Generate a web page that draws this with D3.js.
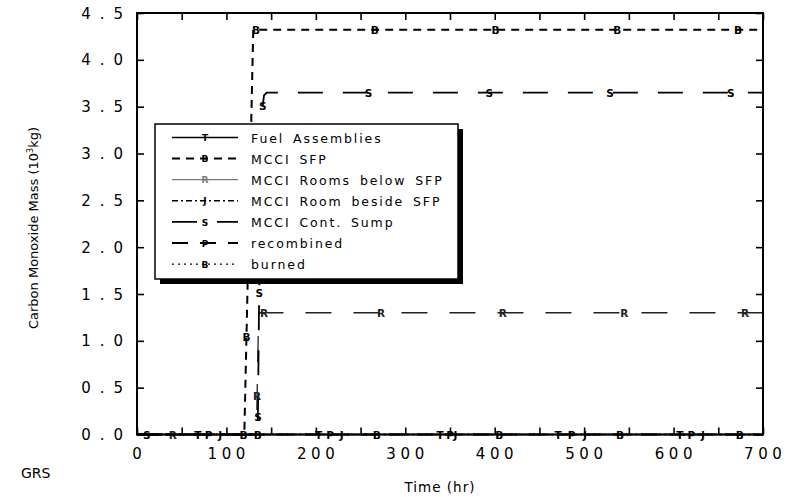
<!DOCTYPE html>
<html>
<head>
<meta charset="utf-8">
<script src="https://cdn.jsdelivr.net/npm/d3@7"></script>
<style>
  html, body { margin: 0; padding: 0; background: #fff; }
  svg { display: block; }
  text { font-family: "DejaVu Sans", sans-serif; fill: #000; }
</style>
</head>
<body>
<svg id="chart" width="796" height="497"></svg>
<script>
// ---- data: time (hr) vs carbon monoxide mass (10^3 kg) ----
const xTicks = [0, 100, 200, 300, 400, 500, 600, 700];
const yTicks = [0, 0.5, 1.0, 1.5, 2.0, 2.5, 3.0, 3.5, 4.0, 4.5];

const seriesNames = ["Fuel Assemblies", "MCCI SFP", "MCCI Rooms below SFP",
  "MCCI Room beside SFP", "MCCI Cont. Sump", "recombined", "burned"];
const seriesSymbols = ["T", "B", "R", "J", "S", "P", "B"];

// [hour, mass] points per series
const fuelAssemblies = [[0, 0], [700, 0]];
const mcciSFP        = [[0, 0], [120, 0], [130, 4.32], [700, 4.32]];
const mcciRoomsBelow = [[0, 0], [133.5, 0], [136, 1.3], [700, 1.3]];
const mcciRoomBeside = [[0, 0], [700, 0]];
const mcciContSump   = [[0, 0], [135, 0], [136.5, 1.41], [140.5, 3.5], [142, 3.62], [145, 3.65], [700, 3.65]];
const recombined     = [[0, 0], [700, 0]];
const burned         = [[0, 0], [700, 0]];

// hours at which each series carries its symbol
const fuelMarks    = [68, 203, 339, 471, 607];
const sfpMarks     = [119, 122.4, 133, 266, 401, 537, 672];
const belowMarks   = [40, 134.3, 142, 273, 409, 545, 680];
const besideMarks  = [93, 229, 356, 501, 633];
const sumpMarks    = [11, 135.2, 136.7, 140.6, 259, 394, 529, 664];
const recombMarks  = [80, 216, 350, 486, 620];
const burnedMarks  = [135, 268, 405, 540, 674];

const seriesData  = [fuelAssemblies, mcciSFP, mcciRoomsBelow, mcciRoomBeside, mcciContSump, recombined, burned];
const seriesMarks = [fuelMarks, sfpMarks, belowMarks, besideMarks, sumpMarks, recombMarks, burnedMarks];

// ---- styles ----
const styles = [
  { color: "#000", width: 1.6, dash: null },
  { color: "#000", width: 2.0, dash: "8,6" },
  { color: "#222", width: 1.3, dash: "26,22" },
  { color: "#000", width: 1.4, dash: "6,3,2,3" },
  { color: "#000", width: 1.8, dash: "25,20" },
  { color: "#000", width: 1.8, dash: "16,12" },
  { color: "#000", width: 1.4, dash: "2,4" }
];
const legendStyles = styles.map((s, i) => i === 2 ? { color: "#777", width: 1.2, dash: null } : s);

const svg = d3.select("#chart");
const x = d3.scaleLinear().domain([0, 700]).range([137, 763]);
const y = d3.scaleLinear().domain([0, 4.5]).range([434.5, 13]);

const line = d3.line().x(d => x(d[0])).y(d => y(d[1]));

// value of a series at a given hour (along its polyline)
function valueAt(pts, t) {
  for (let i = 1; i < pts.length; i++) {
    if (t <= pts[i][0]) {
      const [t0, v0] = pts[i - 1], [t1, v1] = pts[i];
      return v0 + (v1 - v0) * (t - t0) / (t1 - t0);
    }
  }
  return pts[pts.length - 1][1];
}

// ---- axes (ticks pointing inward) ----
const tickX = d3.range(0, 701, 50);
const axBottom = d3.axisBottom(x).tickValues(tickX).tickSize(-7).tickFormat("");
const axTop = d3.axisTop(x).tickValues(tickX).tickSize(-7).tickFormat("");
const axLeft = d3.axisLeft(y).tickValues(yTicks).tickSize(-7).tickFormat("");
const axRight = d3.axisRight(y).tickValues(yTicks).tickSize(-7).tickFormat("");
[[axBottom, `translate(0,${y(0)})`], [axTop, `translate(0,${y(4.5)})`],
 [axLeft, `translate(${x(0)},0)`], [axRight, `translate(${x(700)},0)`]].forEach(([ax, tr]) => {
  const g = svg.append("g").attr("transform", tr).call(ax);
  g.select(".domain").remove();
  g.selectAll("line").attr("stroke", "#000").attr("stroke-width", 1.6);
});

// tick labels
svg.append("g").selectAll("text").data(xTicks).join("text")
  .attr("x", d => x(d) + 2.3).attr("y", 459)
  .attr("text-anchor", "middle").attr("font-size", 15)
  .attr("letter-spacing", 4.6)
  .text(d => String(d));
svg.append("g").selectAll("text").data(yTicks).join("text")
  .attr("x", 123 + 9).attr("y", d => y(d) + 5.5)
  .attr("text-anchor", "end").attr("font-size", 15)
  .attr("letter-spacing", 9)
  .text(d => d.toFixed(1));

// axis titles
svg.append("text").attr("x", 440).attr("y", 492)
  .attr("text-anchor", "middle").attr("font-size", 13.5).attr("letter-spacing", 1)
  .text("Time (hr)");
const yt = svg.append("text")
  .attr("transform", "translate(38,228) rotate(-90)")
  .attr("text-anchor", "middle").attr("font-size", 13);
yt.append("tspan").text("Carbon Monoxide Mass (10");
yt.append("tspan").attr("font-size", 8).attr("dy", -5).text("3");
yt.append("tspan").attr("dy", 5).text("kg)");

svg.append("text").attr("x", 21).attr("y", 478).attr("font-size", 14).text("GRS");

// ---- series lines ----
const order = [6, 5, 3, 0, 2, 4, 1];
order.forEach(i => {
  const s = styles[i];
  svg.append("path").datum(seriesData[i]).attr("d", line)
    .attr("fill", "none").attr("stroke", s.color).attr("stroke-width", s.width)
    .attr("stroke-dasharray", s.dash);
});

// ---- series symbols ----
order.forEach(i => {
  svg.append("g").selectAll("text").data(seriesMarks[i]).join("text")
    .attr("x", t => x(t)).attr("y", t => y(valueAt(seriesData[i], t)) + 4)
    .attr("text-anchor", "middle").attr("font-size", 10.5).attr("font-weight", "bold")
    .style("fill", styles[i].color)
    .text(seriesSymbols[i]);
});

// ---- frame ----
svg.append("rect").attr("x", x(0)).attr("y", y(4.5))
  .attr("width", x(700) - x(0)).attr("height", y(0) - y(4.5))
  .attr("fill", "none").attr("stroke", "#000").attr("stroke-width", 2);

// ---- legend ----
const lg = svg.append("g").attr("transform", "translate(155,124)");
lg.append("rect").attr("x", 5).attr("y", 5).attr("width", 303).attr("height", 155).attr("fill", "#000");
lg.append("rect").attr("x", 0).attr("y", 0).attr("width", 303).attr("height", 155)
  .attr("fill", "#fff").attr("stroke", "#000").attr("stroke-width", 1.5);
seriesNames.forEach((name, i) => {
  const ry = 13.5 + i * 21.1;
  const s = legendStyles[i];
  const row = lg.append("g").attr("transform", `translate(0,${ry})`);
  row.append("line").attr("x1", 17).attr("x2", 83).attr("y1", 0).attr("y2", 0)
    .attr("stroke", s.color).attr("stroke-width", s.width).attr("stroke-dasharray", s.dash);
  row.append("text").attr("x", 50).attr("y", 3.6).attr("text-anchor", "middle")
    .attr("font-size", 9).attr("font-weight", "bold").style("fill", s.color)
    .text(seriesSymbols[i]);
  row.append("text").attr("x", 96).attr("y", 5).attr("font-size", 12.5)
    .attr("letter-spacing", 1.9).attr("word-spacing", 3)
    .text(name);
});
</script>
</body>
</html>
